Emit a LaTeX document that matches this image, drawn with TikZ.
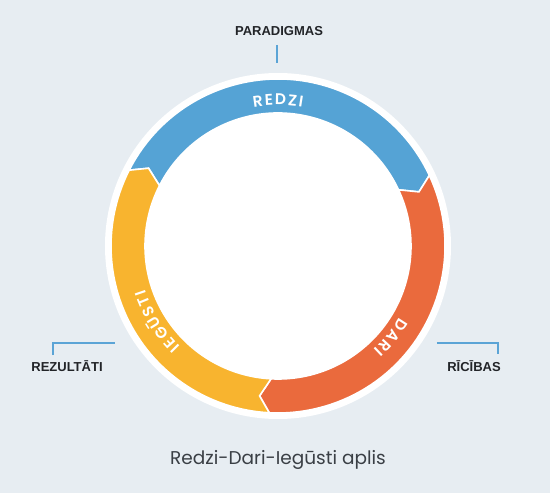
\documentclass[tikz,border=0pt]{standalone}
\usepackage{fontspec}
\setmainfont{Liberation Sans}
\newfontfamily\ringfont{Poppins}[UprightFont=* SemiBold, WordSpace=0.45]
\newfontfamily\capfont{Poppins}
\usepackage{tikz}
\usetikzlibrary{calc,decorations.text}
\definecolor{bgcol}{HTML}{E7EDF2}
\definecolor{redzicol}{HTML}{55A3D5}
\definecolor{daricol}{HTML}{EA6A3D}
\definecolor{iegusticol}{HTML}{F8B42F}
\definecolor{tickcol}{HTML}{5BA4D6}
\definecolor{labcol}{HTML}{222428}
\definecolor{capcol}{HTML}{3A3F45}
% ring radii (outer, middle, inner) and chevron depth
\def\ro{167}\def\rm{151}\def\ri{133}\def\cd{4}
\def\ringpart[#1](#2:#3){\draw[#1] (#2:\ro) arc[start angle=#2, end angle=#3, radius=\ro] -- ({#3-\cd}:\rm) -- (#3:\ri) arc[start angle=#3, end angle=#2, radius=\ri] -- ({#2-\cd}:\rm) -- cycle;}

\begin{document}
\begin{tikzpicture}[x=1pt, y=1pt,
	ringseg/.style={draw=white, line width=1.6pt, line join=miter},
	ringtxt/.style={decorate, decoration={text along path, text align=center, text color=white, text={|\ringfont\fontsize{15.5}{16}\selectfont|#1}}},
	sidelab/.style={font=\bfseries\fontsize{13}{15}\selectfont, text=labcol, inner sep=0pt},
	tickline/.style={draw=tickcol, line width=2.2pt}]
		%%%%% START %%%%%
		
		\fill[bgcol] (-278, -247) rectangle (272, 246);
		\useasboundingbox (-278, -247) rectangle (272, 246);
		
		\fill[white] (0, 0) circle (173);
		
		\ringpart[ringseg, fill=redzicol](153:25);
		\ringpart[ringseg, fill=daricol](25:-93);
		\ringpart[ringseg, fill=iegusticol](267:153);
		
		\path[ringtxt={R E D Z I}] (135:141) arc[start angle=135, end angle=45, radius=141];
		\path[ringtxt={D A R I}] (6:141) arc[start angle=6, end angle=-84, radius=141];
		\path[ringtxt={I E G Ū S T I}] (257:140) arc[start angle=257, end angle=167, radius=140];
		
		\node[sidelab] (paradigmas) at (1, 215) {PARADIGMAS};
		\coordinate (partop) at (-1, 201);
		\coordinate (parbot) at (-1, 183);
		\draw[tickline] (partop) -- (parbot);
		
		\node[sidelab] (rezultati) at (-211, -120) {REZULTĀTI};
		\coordinate (rezlow) at (-225, -109);
		\coordinate (rezend) at (-163, -97);
		\draw[tickline] (rezlow) |- (rezend);
		
		\node[sidelab] (ricibas) at (196, -120) {RĪCĪBAS};
		\coordinate (ricend) at (159, -97);
		\coordinate (riclow) at (220, -108);
		\draw[tickline] (ricend) -| (riclow);
		
		\node[font=\capfont\fontsize{18.5}{20}\selectfont, text=capcol] (caption) at (0, -214) {Redzi-Dari-Iegūsti aplis};
		
		%%%%% END %%%%%
	\end{tikzpicture}
\end{document}
